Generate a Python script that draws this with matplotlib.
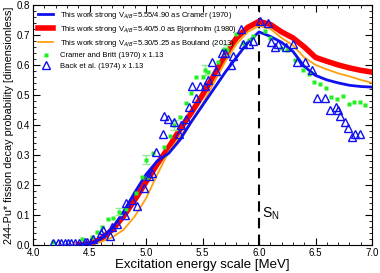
import numpy as np
import matplotlib.pyplot as plt
from matplotlib.ticker import MultipleLocator

plt.rcParams['font.family'] = ['Liberation Sans', 'DejaVu Sans']

# model curves
e_model = [4.4, 4.5, 4.6, 4.7, 4.8, 4.9, 5.0, 5.1, 5.2, 5.3, 5.4, 5.5, 5.6, 5.7, 5.8, 5.9,
           6.0, 6.1, 6.2, 6.3, 6.4, 6.5, 6.6, 6.7, 6.8, 6.9, 7.0]
p_blue = [0.0, 0.003, 0.02, 0.055, 0.11, 0.175, 0.235, 0.28, 0.305, 0.35, 0.41, 0.465,
          0.52, 0.575, 0.625, 0.675, 0.71, 0.695, 0.675, 0.645, 0.595, 0.565, 0.55, 0.54,
          0.532, 0.528, 0.526]
p_red = [0.0, 0.003, 0.02, 0.05, 0.095, 0.15, 0.21, 0.27, 0.325, 0.385, 0.44, 0.5, 0.565,
         0.63, 0.69, 0.725, 0.745, 0.735, 0.71, 0.69, 0.66, 0.625, 0.612, 0.6, 0.59, 0.582,
         0.576]
p_orange = [0.0, 0.002, 0.01, 0.025, 0.05, 0.095, 0.155, 0.235, 0.31, 0.36, 0.41, 0.47,
            0.54, 0.61, 0.67, 0.71, 0.73, 0.72, 0.69, 0.665, 0.625, 0.6, 0.585, 0.572,
            0.562, 0.55, 0.54]

# Cramer and Britt (1970) x 1.13
e_cramer = [4.18, 4.43, 4.52, 4.57, 4.61, 4.66, 4.71, 4.76, 4.82, 4.91, 4.96, 5.00, 5.01,
            5.06, 5.16, 5.21, 5.25, 5.30, 5.35, 5.40, 5.44, 5.50, 5.52, 5.55, 5.64, 5.69,
            5.72, 5.80, 5.86, 5.91, 5.95, 6.05, 6.10, 6.19, 6.25, 6.32, 6.39, 6.44, 6.49,
            6.54, 6.59, 6.64, 6.69, 6.74, 6.80, 6.84, 6.89, 6.94]
p_cramer = [0.010, 0.020, 0.027, 0.043, 0.060, 0.085, 0.090, 0.110, 0.120, 0.173, 0.225,
            0.283, 0.223, 0.307, 0.327, 0.363, 0.400, 0.427, 0.473, 0.507, 0.560, 0.560,
            0.583, 0.577, 0.610, 0.653, 0.650, 0.703, 0.673, 0.683, 0.697, 0.712, 0.690,
            0.657, 0.650, 0.617, 0.583, 0.570, 0.543, 0.537, 0.523, 0.493, 0.485, 0.495,
            0.470, 0.477, 0.475, 0.465]
err_cramer = [0, 0, 0, 0, 0, 0, 0, 0.012, 0, 0, 0, 0.015, 0, 0, 0, 0, 0.016, 0, 0, 0, 0,
              0, 0.018, 0, 0, 0, 0.018, 0, 0, 0, 0, 0, 0, 0, 0, 0, 0, 0, 0, 0, 0, 0, 0, 0,
              0, 0, 0, 0]

# Back et al. (1974) x 1.13
e_back = [4.18, 4.22, 4.25, 4.28, 4.31, 4.34, 4.37, 4.41, 4.46, 4.48, 4.53, 4.60, 4.62,
          4.68, 4.70, 4.74, 4.81, 4.82, 4.88, 4.92, 4.98, 5.03, 5.05, 5.09, 5.15, 5.16,
          5.19, 5.25, 5.29, 5.31, 5.35, 5.38, 5.44, 5.41, 5.48, 5.52, 5.55, 5.58, 5.62,
          5.67, 5.70, 5.75, 5.77, 5.84, 5.86, 5.91, 5.95, 6.01, 6.08, 6.11, 6.14, 6.17,
          6.24, 6.30, 6.34, 6.41, 6.47, 6.51, 6.58, 6.63, 6.68, 6.70, 6.72, 6.76, 6.79,
          6.82, 6.85, 6.89]
p_back = [0.005, 0.007, 0.005, 0.006, 0.005, 0.007, 0.005, 0.006, 0.008, 0.01, 0.02,
          0.04, 0.05, 0.03, 0.06, 0.07, 0.10, 0.14, 0.15, 0.13, 0.19, 0.23, 0.24, 0.31,
          0.37, 0.43, 0.42, 0.41, 0.37, 0.40, 0.42, 0.46, 0.49, 0.53, 0.53, 0.53, 0.55,
          0.61, 0.58, 0.64, 0.64, 0.60, 0.63, 0.72, 0.67, 0.67, 0.68, 0.745, 0.74, 0.677,
          0.66, 0.67, 0.66, 0.67, 0.61, 0.61, 0.583, 0.49, 0.49, 0.45, 0.46, 0.45, 0.43,
          0.41, 0.39, 0.36, 0.37, 0.37]

e_sn = 6.0

fig, ax = plt.subplots(figsize=(3.8, 2.73), dpi=100)
fig.subplots_adjust(left=0.087, right=0.979, bottom=0.103, top=0.982)

ax.plot(e_model, p_blue, color='#1010ee', lw=2.0, zorder=4,
        label='This work strong V$_{A/B}$=5.55/4.90 as Cramer (1970)')
ax.plot(e_model, p_red, color='#ff0000', lw=4.0, zorder=3,
        label='This work strong V$_{A/B}$=5.40/5.0 as Bjornholm (1980)')
ax.plot(e_model, p_orange, color='#ffa010', lw=1.3, zorder=3.5,
        label='This work strong V$_{A/B}$=5.30/5.25 as Bouland (2013)')

err = np.array(err_cramer)
m = err > 0
ax.errorbar(np.array(e_cramer)[m], np.array(p_cramer)[m], yerr=err[m], fmt='none',
            ecolor='#90ee90', elinewidth=1, capsize=3, zorder=5)
ax.plot(e_cramer, p_cramer, 's', color='#22ee22', ms=3.0, mec='none', zorder=6,
        label='Cramer and Britt (1970) x 1.13')
ax.plot(e_back, p_back, '^', mfc='none', mec='#1010ee', mew=1.0, ms=6.0, zorder=7,
        label='Back et al. (1974) x 1.13')

ax.axvline(e_sn, color='black', ls=(0, (5, 3)), lw=1.5, zorder=2)
ax.text(6.03, 0.09, 'S$_\\mathregular{N}$', fontsize=10)

ax.set_xlim(4.0, 7.0)
ax.set_ylim(0.0, 0.8)
ax.xaxis.set_major_locator(MultipleLocator(0.5))
ax.xaxis.set_minor_locator(MultipleLocator(0.1))
ax.yaxis.set_major_locator(MultipleLocator(0.1))
ax.yaxis.set_minor_locator(MultipleLocator(0.02))
ax.xaxis.set_major_formatter(plt.FormatStrFormatter('%.1f'))
ax.yaxis.set_major_formatter(plt.FormatStrFormatter('%.1f'))
ax.tick_params(which='both', direction='in', top=True, right=True, labelsize=7)
ax.tick_params(which='major', length=5, width=0.8)
ax.tick_params(which='minor', length=2.5, width=0.6)
ax.tick_params(axis='x', pad=2)
ax.tick_params(axis='y', pad=2)

ax.set_xlabel('Excitation energy scale [MeV]', fontsize=9.5, labelpad=1)
ax.set_ylabel('244-Pu* fission decay probability [dimensionless]', fontsize=7.8, labelpad=2)

ax.legend(loc='upper left', frameon=False, fontsize=5.5, handlelength=1.9,
          handletextpad=0.9, labelspacing=0.4, borderaxespad=0.3,
          bbox_to_anchor=(0.0, 1.0))

fig.savefig('out.png', dpi=100)
